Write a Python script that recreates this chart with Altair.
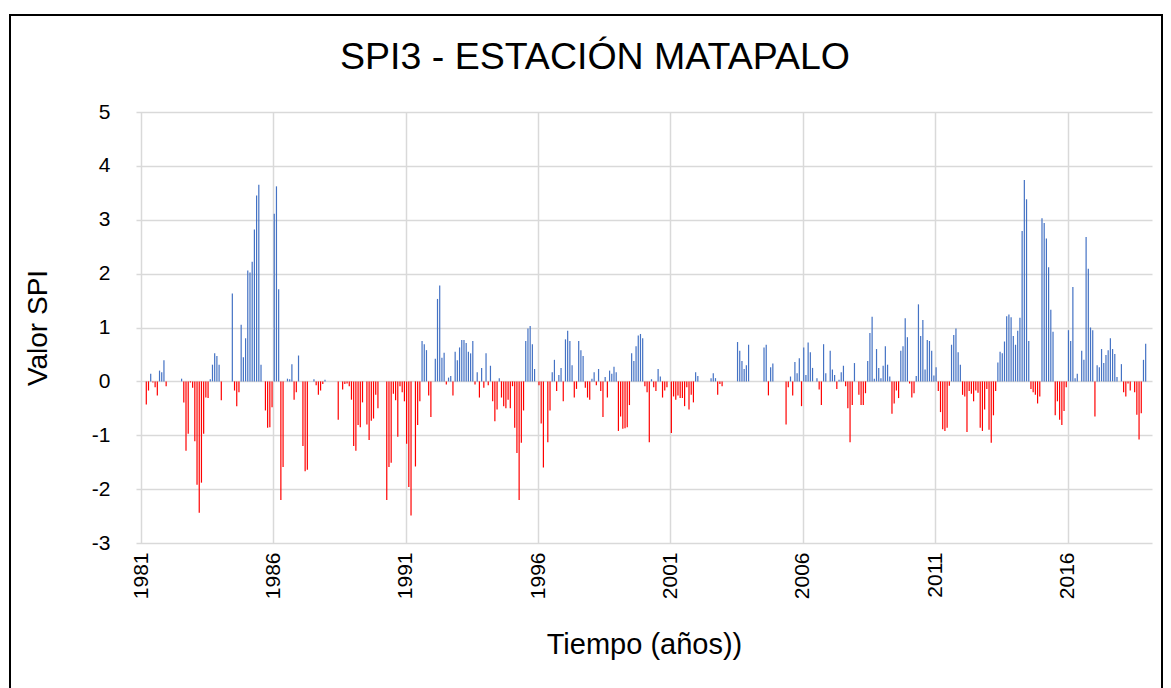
import altair as alt
import pandas as pd

# SPI3 monthly values (Jan..Dec); None = no value
y1981 = [None, None, -0.43, -0.17, 0.14, -0.02, -0.11, -0.26, 0.20, 0.17, 0.39, -0.09]
y1982 = [0, 0, 0, 0, 0, 0, 0.05, -0.39, -1.29, -0.97, -0.02, -0.12]
y1983 = [-1.11, -1.92, -2.44, -1.88, -0.97, -0.30, -0.31, 0.04, 0.31, 0.52, 0.47, 0.31]
y1984 = [-0.35, 0, 0, 0, 0, 1.63, -0.17, -0.46, -0.20, 1.05, 0.45, 0.80]
y1985 = [2.06, 2.02, 2.22, 2.82, 3.45, 3.65, 0.31, 0, -0.54, -0.86, -0.85, -0.48]
y1986 = [3.11, 3.62, 1.71, -2.20, -1.59, 0, 0.05, 0.04, 0.32, -0.34, -0.20, 0.48]
y1987 = [0, -1.20, -1.67, -1.64, 0, 0, 0.04, -0.07, -0.25, -0.17, -0.05, 0.03]
y1988 = [0, 0, 0, 0, 0, -0.71, 0, -0.15, -0.05, -0.04, -0.09, -0.34]
y1989 = [-1.20, -1.29, -0.81, -0.85, -0.39, 0, -0.80, -1.09, -0.73, -0.69, -0.25, -0.50]
y1990 = [0, 0, 0, -2.20, -1.59, -1.51, -0.23, -0.35, -1.03, -0.09, -0.20, -0.37]
y1991 = [-1.16, -1.96, -2.49, 0, -1.58, -0.81, -0.37, 0.75, 0.69, 0.58, -0.26, -0.66]
y1992 = [0, 0.42, 1.53, 1.78, 0.44, 0.53, -0.06, 0.07, 0.10, -0.26, 0.55, 0.39]
y1993 = [0.63, 0.77, 0.77, 0.71, 0.55, 0.52, 0.75, -0.06, 0.17, -0.30, 0.25, -0.12]
y1994 = [0.52, -0.07, 0.29, -0.37, -0.74, -0.52, 0.06, -0.30, -0.46, -0.50, -0.34, -0.50]
y1995 = [-0.09, -0.86, -1.33, -2.20, -1.14, -0.54, 0.75, 0.98, 1.03, 0.69, 0.23, 0]
y1996 = [-0.07, -0.78, -1.60, 0, -1.13, -0.54, 0.17, 0.40, -0.18, 0.12, 0.25, -0.37]
y1997 = [0.78, 0.94, 0.75, 0.30, -0.30, -0.14, 0.75, 0.58, 0.47, -0.12, -0.30, -0.34]
y1998 = [0.05, 0.17, -0.07, 0.23, -0.18, -0.66, 0.08, -0.30, 0.20, 0.14, 0.27, 0.17]
y1999 = [-0.92, -0.65, -0.88, -0.87, -0.85, -0.44, 0.52, 0.38, 0.65, 0.85, 0.88, 0.80]
y2000 = [-0.09, -0.20, -1.13, 0.04, -0.11, -0.18, 0.23, 0.09, -0.30, -0.17, -0.11, 0]
y2001 = [-0.96, -0.28, -0.34, -0.26, -0.31, -0.31, -0.46, -0.11, -0.52, -0.25, -0.39, 0.17]
y2002 = [0.10, 0, 0, 0, 0, 0, 0.06, 0.15, 0.06, -0.25, -0.05, -0.09]
y2003 = [0, 0, 0, 0, 0, 0, 0.73, 0.57, 0.38, 0.23, 0.30, 0.68]
y2004 = [0, 0, 0, 0, 0, 0, 0.63, 0.68, -0.26, 0.26, 0.33, 0]
y2005 = [0, 0, 0, 0, -0.80, -0.11, 0.09, -0.26, 0.36, 0.15, 0.43, -0.46]
y2006 = [0.63, 0.12, 0.72, 0.54, 0.25, 0, 0.06, -0.15, -0.44, 0.69, 0.15, 0]
y2007 = [0.57, 0.22, 0.12, -0.14, 0.03, 0.17, 0.29, -0.09, -0.50, -1.13, -0.44, 0.34]
y2008 = [0, -0.25, -0.44, -0.44, -0.22, 0.38, 0.90, 1.20, 0.05, 0.60, 0.25, 0.06]
y2009 = [0.29, 0.65, 0.31, 0.09, -0.60, -0.41, -0.17, -0.31, 0.57, 0.65, 1.17, 0.82]
y2010 = [-0.04, -0.30, -0.22, 0.10, 1.43, 0.84, 1.14, 0.22, 0.77, 0.75, 0.57, 0.11]
y2011 = [0.26, -0.18, -0.57, -0.89, -0.92, -0.86, -0.08, 0.68, 0.86, 0.98, 0.54, 0.31]
y2012 = [-0.25, -0.28, -0.94, -0.18, -0.23, -0.37, -0.17, -0.21, -0.86, -0.92, -0.52, -0.14]
y2013 = [-0.90, -1.14, -0.63, -0.18, 0.35, 0.55, 0.52, 0.74, 1.21, 1.24, 1.19, 0.84]
y2014 = [0.68, 0.94, 1.18, 2.79, 3.74, 3.38, 0.75, -0.14, -0.20, -0.25, -0.41, -0.28]
y2015 = [3.03, 2.94, 2.65, 2.12, 1.33, 0.92, -0.63, -0.37, -0.71, -0.81, -0.55, -0.11]
y2016 = [0.95, 0.75, 1.75, 0.06, 0.14, 0, 0.57, 0.40, 2.68, 2.09, 1.00, 0.95]
y2017 = [-0.65, 0.30, 0.26, 0.60, 0.34, 0.49, 0.58, 0.80, 0.60, 0.51, 0.08, 0]
y2018 = [0.32, -0.20, -0.28, -0.04, -0.17, 0, -0.20, -0.62, -1.08, -0.59, 0.40, 0.70]

years = list(range(1981, 2019))
series = [y1981, y1982, y1983, y1984, y1985, y1986, y1987, y1988, y1989, y1990,
          y1991, y1992, y1993, y1994, y1995, y1996, y1997, y1998, y1999, y2000,
          y2001, y2002, y2003, y2004, y2005, y2006, y2007, y2008, y2009, y2010,
          y2011, y2012, y2013, y2014, y2015, y2016, y2017, y2018]

x_ticks = [1981, 1986, 1991, 1996, 2001, 2006, 2011, 2016]
y_ticks = [-3, -2, -1, 0, 1, 2, 3, 4, 5]
title_text = "SPI3 - ESTACIÓN MATAPALO"

rows = []
for yr, vals in zip(years, series):
    for i, v in enumerate(vals):
        if v is None:
            continue
        rows.append({"t": yr + (i + 0.4) / 12.0, "spi": v})
df = pd.DataFrame(rows)

FONT = "Liberation Sans"
GRID = "#d9d9d9"

bars = alt.Chart(df).mark_bar(size=1.2).encode(
    x=alt.X("t:Q",
            scale=alt.Scale(domain=[1981, 2019], nice=False, zero=False),
            axis=alt.Axis(values=x_ticks, labelExpr="'' + datum.value",
                          labelAngle=-90,
                          title="Tiempo (años))", grid=True, gridColor=GRID,
                          gridWidth=1.5, ticks=False, domain=False,
                          labelPadding=9, labelFontSize=21, labelColor="#000000",
                          titleFontSize=29, titleFontWeight="normal",
                          titleColor="#000000", titlePadding=32)),
    y=alt.Y("spi:Q",
            scale=alt.Scale(domain=[-3, 5], nice=False),
            axis=alt.Axis(values=y_ticks, labelExpr="'' + datum.value",
                          title="Valor SPI", grid=True,
                          gridColor=GRID, gridWidth=1.5, ticks=False,
                          domain=False, labelPadding=26, labelFontSize=21,
                          labelColor="#000000", titleFontSize=28,
                          titleFontWeight="normal", titleColor="#000000",
                          titlePadding=39)),
    color=alt.condition("datum.spi > 0", alt.value("#4472C4"), alt.value("#FF0000")),
)

frame = alt.Chart(pd.DataFrame({"k": [0]})).mark_rect(
    fill="transparent", stroke="#000000", strokeWidth=2
).encode(
    x=alt.value(-126), x2=alt.value(1026), y=alt.value(-97), y2=alt.value(600)
)

title = alt.Chart(pd.DataFrame({"label": [title_text]})).mark_text(
    fontSize=37.5, font=FONT, color="#000000", align="center", baseline="middle"
).encode(
    text="label:N", x=alt.value(459), y=alt.value(-54)
)

chart = alt.layer(bars, frame, title).properties(
    width=1016, height=431,
    padding={"left": 128, "top": 104, "right": 11, "bottom": 150},
    autosize=alt.AutoSizeParams(type="none"),
).configure(font=FONT).configure_view(stroke="transparent")

chart.save("out.html", embed_options={"renderer": "svg", "actions": False})
